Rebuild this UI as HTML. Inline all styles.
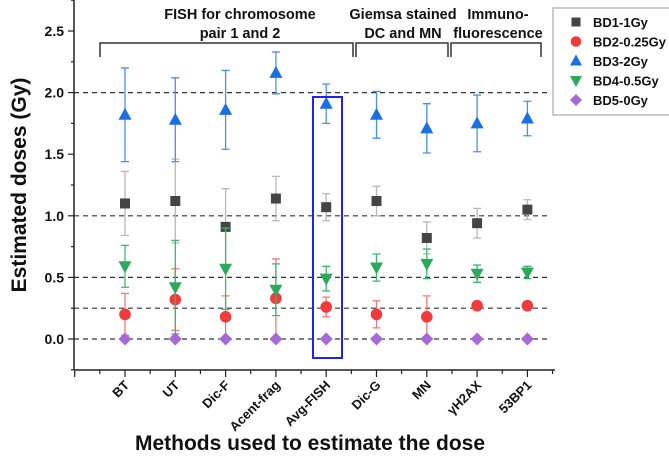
<!DOCTYPE html>
<html><head><meta charset="utf-8"><style>
html,body{margin:0;padding:0;background:#fff;}
svg{display:block;font-family:"Liberation Sans",Arial,sans-serif;}
</style></head><body>
<svg id="chart" width="669" height="459" viewBox="0 0 669 459">
<g id="grid"></g>
<g id="axes"></g>
<g id="series"></g>
<rect x="313" y="97" width="29" height="261" fill="none" stroke="#2222ee" stroke-width="2"/>
<g fill="none" stroke="#333" stroke-width="1.5">
<path d="M100,57 V43 H353 V57"/>
<path d="M356,57 V43 H448 V57"/>
<path d="M451,57 V43 H541 V57"/>
</g>
<g font-weight="bold" font-size="14.5" fill="#111" text-anchor="middle">
<text x="240" y="19">FISH for chromosome</text>
<text x="240" y="38">pair 1 and 2</text>
<text x="403" y="19">Giemsa stained</text>
<text x="403" y="38">DC and MN</text>
<text x="498" y="19">Immuno-</text>
<text x="498" y="38">fluorescence</text>
</g>
<g>
<rect x="553" y="8" width="118" height="107" fill="#fff" stroke="#999" stroke-width="1"/>
<g id="legend-items"></g>
</g>
<text transform="translate(26,185) rotate(-90)" text-anchor="middle" font-size="21" font-weight="bold" fill="#111">Estimated doses (Gy)</text>
<text x="310" y="450" text-anchor="middle" font-size="21" font-weight="bold" fill="#111">Methods used to estimate the dose</text>
</svg>
<script>
const categories=["BT","UT","Dic-F","Acent-frag","Avg-FISH","Dic-G","MN","γH2AX","53BP1"];
const bd1=[1.10,1.12,0.91,1.14,1.07,1.12,0.82,0.94,1.05];
const bd1Err=[0.26,0.34,0.31,0.18,0.11,0.12,0.13,0.12,0.08];
const bd2=[0.20,0.32,0.18,0.33,0.26,0.20,0.18,0.27,0.27];
const bd2Err=[0.17,0.25,0.17,0.32,0.08,0.11,0.17,0.03,0.0];
const bd3=[1.82,1.78,1.86,2.16,1.91,1.82,1.71,1.75,1.79];
const bd3Err=[0.38,0.34,0.32,0.17,0.16,0.19,0.20,0.23,0.14];
const bd4=[0.59,0.42,0.57,0.40,0.49,0.58,0.61,0.53,0.54];
const bd4Err=[0.17,0.38,0.33,0.21,0.10,0.11,0.12,0.07,0.05];
const bd5=[0,0,0,0,0,0,0,0,0];
const bd5Err=[0,0,0,0,0,0,0,0,0];
const yTicks=[0,0.5,1.0,1.5,2.0,2.5];
const refLines=[0,0.25,0.5,1,2];
const seriesNames=["BD1-1Gy","BD2-0.25Gy","BD3-2Gy","BD4-0.5Gy","BD5-0Gy"];

const NS="http://www.w3.org/2000/svg";
const x=i=>74.7+50.3*(i+1);
const y=v=>339-123.2*v;
function mk(tag,attrs,parent){const e=document.createElementNS(NS,tag);for(const k in attrs)e.setAttribute(k,attrs[k]);parent.appendChild(e);return e;}
const grid=document.getElementById('grid'),axes=document.getElementById('axes'),ser=document.getElementById('series'),leg=document.getElementById('legend-items');

refLines.forEach(v=>{const l=mk('line',{x1:74,x2:547,y1:y(v),y2:y(v),stroke:'#333','stroke-width':1.2,'stroke-dasharray':'5,4'},grid);

});

let a=mk('line',{x1:74,x2:74,y1:0,y2:370,stroke:'#222','stroke-width':1.5},axes);


a=mk('line',{x1:74,x2:555,y1:370,y2:370,stroke:'#222','stroke-width':1.5},axes);


for(let v=-0.25;v<=2.76;v+=0.25){const major=Math.abs(v*2-Math.round(v*2))<1e-6&&v>=0;mk('line',{x1:74,x2:major?68:71,y1:y(v),y2:y(v),stroke:'#222','stroke-width':1.2},axes);}
yTicks.forEach(v=>{const t=mk('text',{x:64,y:y(v)+5,'text-anchor':'end','font-size':14,'font-weight':'bold',fill:'#111'},axes);t.textContent=v.toFixed(1);

});
for(let k=0;k<=19;k++){const xx=74.7+25.15*k;if(xx>556)break;mk('line',{x1:xx,x2:xx,y1:370,y2:k%2==0?377:374,stroke:'#222','stroke-width':1.2},axes);}
categories.forEach((c,i)=>{const t=mk('text',{transform:`translate(${x(i)+5},386) rotate(-45)`,'text-anchor':'end','font-size':13,'font-weight':'bold',fill:'#111'},axes);t.textContent=c;

});

const colors=['#444444','#ee3b3b','#1c6fe0','#2ca85f','#a56ad8'];
const errColors=['#b8b8b8','#f07a7a','#4a8ff0','#3fb672','#b98ae0'];
const all=[[bd1,bd1Err],[bd2,bd2Err],[bd3,bd3Err],[bd4,bd4Err],[bd5,bd5Err]];
function marker(s,cx,cy,parent,r){
 if(s==0)return mk('rect',{x:cx-r,y:cy-r,width:2*r,height:2*r,fill:colors[0]},parent);
 if(s==1)return mk('circle',{cx:cx,cy:cy,r:r+0.8,fill:colors[1]},parent);
 if(s==2)return mk('polygon',{points:`${cx},${cy-r-2} ${cx-r-1.5},${cy+r} ${cx+r+1.5},${cy+r}`,fill:colors[2]},parent);
 if(s==3)return mk('polygon',{points:`${cx},${cy+r+2} ${cx-r-1.5},${cy-r} ${cx+r+1.5},${cy-r}`,fill:colors[3]},parent);
 return mk('polygon',{points:`${cx},${cy-r-1.5} ${cx+r+1.5},${cy} ${cx},${cy+r+1.5} ${cx-r-1.5},${cy}`,fill:colors[4]},parent);
}
all.forEach(([vals,errs],s)=>{
 const g=mk('g',{},ser);
 
 
 vals.forEach((v,i)=>{
  const cx=x(i),e=errs[i];
  if(e>0){const eb=mk('path',{d:`M${cx},${y(v+e)}V${y(v-e)}M${cx-4},${y(v+e)}H${cx+4}M${cx-4},${y(v-e)}H${cx+4}`,stroke:errColors[s],'stroke-width':1.3,fill:'none'},g);
  
  }
  const m=marker(s,cx,y(v),g,5);
  
  
 });
});
seriesNames.forEach((n,s)=>{
 const yy=22+19.5*s;
 const m=marker(s,576,yy,leg,4.5);
 
 
 const t=mk('text',{x:593,y:yy+5,'font-size':13,'font-weight':'bold',fill:'#111'},leg);t.textContent=n;
 
 
});
</script>
</body></html>
